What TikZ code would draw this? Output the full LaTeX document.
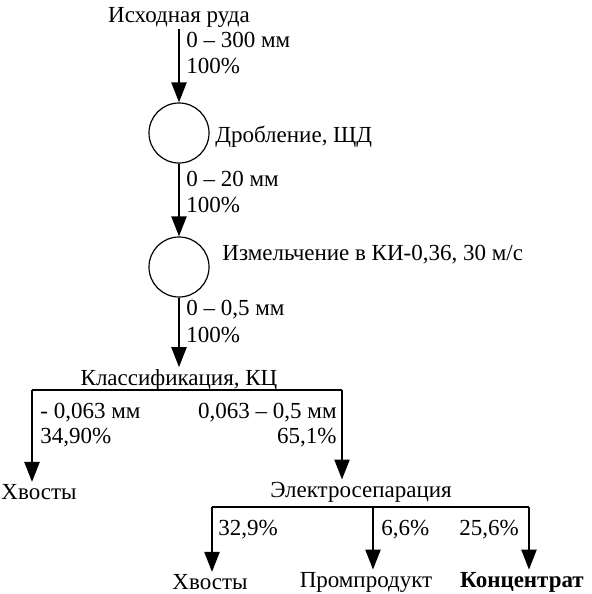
\documentclass[tikz,border=0pt]{standalone}
\usepackage{fontspec}
\setmainfont{Liberation Serif}
\usetikzlibrary{arrows.meta, positioning, calc}

\begin{document}
\begin{tikzpicture}[x=0.5pt, y=-0.5pt,
    lbl/.style={font=\fontsize{11.5}{13}\selectfont, inner sep=1pt},
    unit/.style={circle, draw, line width=0.6pt, minimum size=30pt, inner sep=0pt},
    flow/.style={-{Triangle[length=10pt, width=7.5pt]}, line width=1.1pt}]
    \useasboundingbox (0,0) rectangle (592,594);

    % Units
    \node[lbl] (ore) at (179,17) {Исходная руда};
    \node[unit] (crush) at (179,133) {};
    \node[lbl, anchor=west] (crushT) at (213,137) {Дробление, ЩД};
    \node[unit] (mill) at (179,267) {};
    \node[lbl, anchor=west] (millT) at (220,255) {Измельчение в КИ-0,36, 30 м/с};
    \node[lbl] (klass) at (179,380) {Классификация, КЦ};
    \node[lbl] (tails1) at (39,492) {Хвосты};
    \node[lbl] (esep) at (361,492) {Электросепарация};
    \node[lbl] (tails2) at (210,582) {Хвосты};
    \node[lbl] (midd) at (366,582) {Промпродукт};
    \node[lbl, font=\fontsize{11.5}{13}\selectfont\bfseries] (conc) at (522,582) {Концентрат};

    % Branch points
    \coordinate (kL) at (32,390);
    \coordinate (kR) at (342,390);
    \coordinate (eL) at (212,507);
    \coordinate (eM) at (373,507);
    \coordinate (eR) at (529,507);

    % Flow labels
    \node[lbl, anchor=west] (s1) at (184,40) {0 – 300 мм};
    \node[lbl, anchor=west] (p1) at (184,66) {100\%};
    \node[lbl, anchor=west] (s2) at (184,179) {0 – 20 мм};
    \node[lbl, anchor=west] (p2) at (184,205) {100\%};
    \node[lbl, anchor=west] (s3) at (184,310) {0 – 0,5 мм};
    \node[lbl, anchor=west] (p3) at (184,335) {100\%};
    \node[lbl, anchor=west] (s4) at (38,413) {- 0,063 мм};
    \node[lbl, anchor=west] (p4) at (38,438) {34,90\%};
    \node[lbl, anchor=east] (s5) at (339,413) {0,063 – 0,5 мм};
    \node[lbl, anchor=east] (p5) at (339,438) {65,1\%};
    \node[lbl, anchor=west] (p6) at (216,530) {32,9\%};
    \node[lbl, anchor=west] (p7) at (379,530) {6,6\%};
    \node[lbl, anchor=west] (p8) at (457,530) {25,6\%};

    % Arrows
    \draw[flow] (crush |- ore.south) -- (crush);
    \draw[flow] (crush) -- (mill);
    \draw[flow] (mill) -- (mill |- klass.north);

    \draw[line width=1.1pt] (kL) -- (kR);
    \draw[flow] (kL) -- (kL |- tails1.north);
    \draw[flow] (kR) -- (kR |- esep.north);

    \draw[line width=1.1pt] (eL) -- (eR);
    \draw[flow] (eL) -- (eL |- tails2.north);
    \draw[flow] (eM) -- (eM |- midd.north);
    \draw[flow] (eR) -- (eR |- conc.north);
\end{tikzpicture}
\end{document}
